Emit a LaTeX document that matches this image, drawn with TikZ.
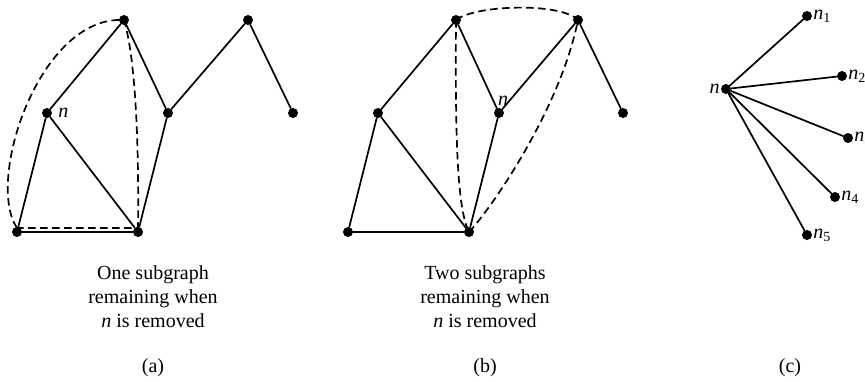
\documentclass[tikz,border=0pt]{standalone}
\usepackage{fontspec}
\setmainfont{Liberation Serif}

\begin{document}
\begin{tikzpicture}[x=1pt,y=-1pt,line cap=round,line join=round,
  every node/.style={inner sep=1pt},
  dot/.style={circle,fill,inner sep=0pt,minimum size=10pt},
  link/.style={line width=1.7pt},
  split/.style={line width=1.7pt,line cap=butt,dash pattern=on 7.5pt off 4.5pt},
  txt/.style={font=\fontsize{20}{24}\selectfont},
  legend/.style={txt,align=center,inner sep=0pt}]
  \useasboundingbox (0,0) rectangle (865,381);
  % (a)
  \node[dot] (at) at (124,20) {};
  \node[dot] (ap) at (248,20) {};
  \node[dot] (an) at (47,113) {};
  \node[dot] (am) at (168,113) {};
  \node[dot] (ar) at (293,113) {};
  \node[dot] (abl) at (17,232) {};
  \node[dot] (abr) at (138,232) {};
  \node[txt,anchor=west] at ([xshift=5pt]an.east) {\textit{n}};
  \foreach \u/\v in {at/an,at/am,am/ap,ap/ar,an/abl,an/abr,abl/abr,abr/am}
    \draw[link] (\u) -- (\v);
  \draw[split] ([yshift=4pt]abl.center) .. controls (-15,180) and (40,15) .. (at.center)
    .. controls (136,60) and (139,150) .. ([yshift=4pt]abr.center) -- cycle;
  \node[legend] at (153,297) {One subgraph\\remaining when\\\textit{n} is removed};
  \node[txt] at (153,368) {(a)};
  % (b)
  \node[dot] (bt) at (456,20) {};
  \node[dot] (bp) at (578,20) {};
  \node[dot] (bl) at (378,113) {};
  \node[dot] (bn) at (499,113) {};
  \node[dot] (br) at (623,113) {};
  \node[dot] (bbl) at (348,232) {};
  \node[dot] (bbr) at (469,232) {};
  \node[txt,anchor=south] at ([xshift=4pt,yshift=1pt]bn.north) {\textit{n}};
  \foreach \u/\v in {bt/bl,bt/bn,bn/bp,bp/br,bl/bbl,bl/bbr,bbl/bbr,bbr/bn}
    \draw[link] (\u) -- (\v);
  \draw[split] (bt.center) .. controls (475,5) and (560,2) .. (bp.center);
  \draw[split] (bt.center) .. controls (455,150) and (458,210) .. (bbr.center);
  \draw[split] (bbr.center) .. controls (490,210) and (560,110) .. (bp.center);
  \node[legend] at (485,297) {Two subgraphs\\remaining when\\\textit{n} is removed};
  \node[txt] at (485,368) {(b)};
  % (c)
  \node[dot] (cn) at (726,89) {};
  \node[txt,anchor=east] at (cn.west) {\textit{n}};
  \foreach \i/\x/\y in {1/807/16,2/842/76,3/848/138,4/835/197,5/807/235}{
    \node[dot] (c\i) at (\x,\y) {};
    \node[txt,anchor=west] at (c\i.east) {\textit{n}\textsubscript{\i}};
    \draw[link] (cn) -- (c\i);
  }
  \node[txt] at (790,368) {(c)};
\end{tikzpicture}
\end{document}
